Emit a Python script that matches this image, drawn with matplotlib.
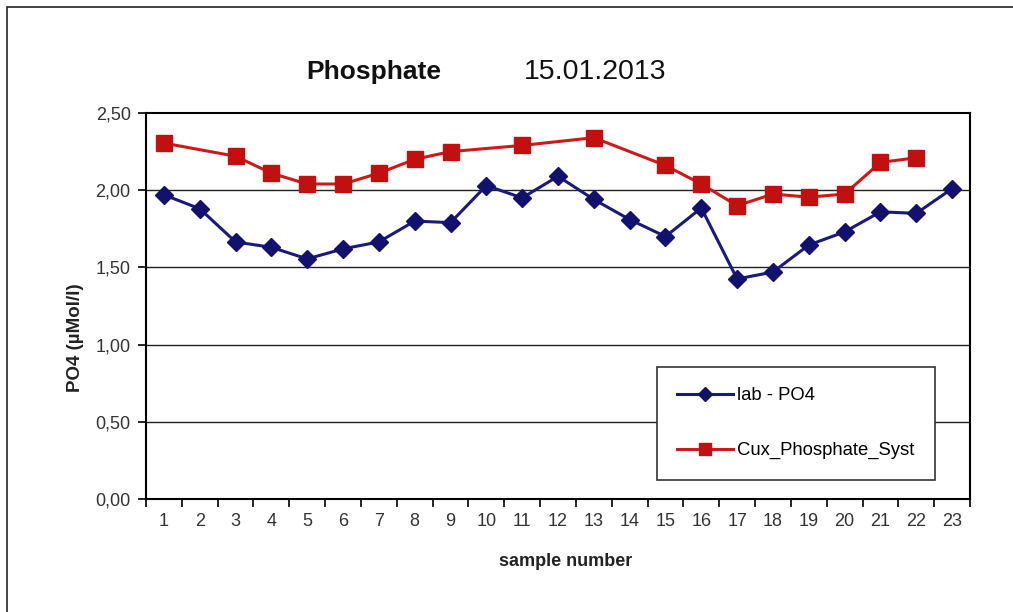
import numpy as np
import matplotlib
matplotlib.use("Agg")
import matplotlib.pyplot as plt
from matplotlib.patches import Rectangle

plt.rcParams['font.family'] = ['Liberation Sans', 'DejaVu Sans']

samples = list(range(1, 24))
lab_po4 = [1.97, 1.88, 1.665, 1.63, 1.555, 1.62, 1.665, 1.80, 1.79, 2.03, 1.95, 2.09,
           1.94, 1.81, 1.70, 1.885, 1.425, 1.47, 1.645, 1.73, 1.86, 1.85, 2.01]
cux_syst = [2.305, None, 2.22, 2.11, 2.04, 2.04, 2.11, 2.20, 2.25, None, 2.29, None,
            2.34, None, 2.16, 2.04, 1.90, 1.975, 1.955, 1.975, 2.18, 2.21, None]
y_ticks = [0.0, 0.5, 1.0, 1.5, 2.0, 2.5]
y_tick_labels = ["0,00", "0,50", "1,00", "1,50", "2,00", "2,50"]

W, H = 1013, 612
fig = plt.figure(figsize=(W / 100, H / 100), dpi=100)
fig.patch.set_facecolor('white')

# outer chart border
fig.patches.append(Rectangle((7 / W, -0.05), 1.2, 1 - 7 / H + 0.05, transform=fig.transFigure,
                             fill=False, edgecolor='#222222', linewidth=1.2))

ax = fig.add_axes([146 / W, 1 - 499 / H, (970 - 146) / W, (499 - 113) / H])

ax.set_xlim(0.585, 23.415)
ax.set_ylim(0, 2.5)

for yv in y_ticks[1:-1]:
    ax.axhline(yv, color='#222222', linewidth=1.0, zorder=1)

cx = [s for s, v in zip(samples, cux_syst) if v is not None]
cy = [v for v in cux_syst if v is not None]

ax.plot(samples, lab_po4, color='#1a1a7a', linewidth=2.2, marker='D', markersize=9,
        markerfacecolor='#12126e', markeredgecolor='#12126e', label='lab - PO4', zorder=3)
ax.plot(cx, cy, color='#cc1a1a', linewidth=2.2, marker='s', markersize=11,
        markerfacecolor='#c01010', markeredgecolor='#c01010', label='Cux_Phosphate_Syst', zorder=3)

for sp in ax.spines.values():
    sp.set_linewidth(1.5)
    sp.set_color('black')

ax.set_yticks(y_ticks)
ax.set_yticklabels(y_tick_labels, fontsize=13, color='#333333')
ax.tick_params(axis='y', direction='out', length=6, width=1.2, pad=5)

ax.set_xticks(np.arange(0.5, 24, 1), minor=False)
ax.set_xticklabels([])
ax.set_xticks(samples, minor=True)
ax.set_xticklabels([str(s) for s in samples], minor=True, fontsize=13, color='#333333')
ax.tick_params(axis='x', which='major', direction='out', length=6, width=1.2)
ax.tick_params(axis='x', which='minor', length=0, pad=10)

fig.text(566 / W, 1 - 561 / H, 'sample number', ha='center', va='center',
         fontsize=13, fontweight='bold', color='#222222')
fig.text(75 / W, 1 - 338 / H, 'PO4 (µMol/l)', ha='center', va='center', rotation=90,
         fontsize=13.5, fontweight='bold', color='#222222')

fig.text(374 / W, 1 - 72 / H, 'Phosphate', ha='center', va='center',
         fontsize=19, fontweight='bold', color='#111111')
fig.text(595 / W, 1 - 72 / H, '15.01.2013', ha='center', va='center',
         fontsize=20.5, color='#111111')

leg = ax.legend(loc='upper left', bbox_to_anchor=((657 - 146) / 824, (499 - 367) / 386),
                frameon=True, fancybox=False, fontsize=13.3, handlelength=3.0,
                borderpad=1.1, labelspacing=2.05, borderaxespad=0, handletextpad=0.25,
                markerscale=0.75)
leg.get_frame().set_edgecolor('#333333')
leg.get_frame().set_linewidth(1.2)
leg.get_frame().set_alpha(1)
leg.set_zorder(5)

fig.savefig('out.png', dpi=100, facecolor='white')
